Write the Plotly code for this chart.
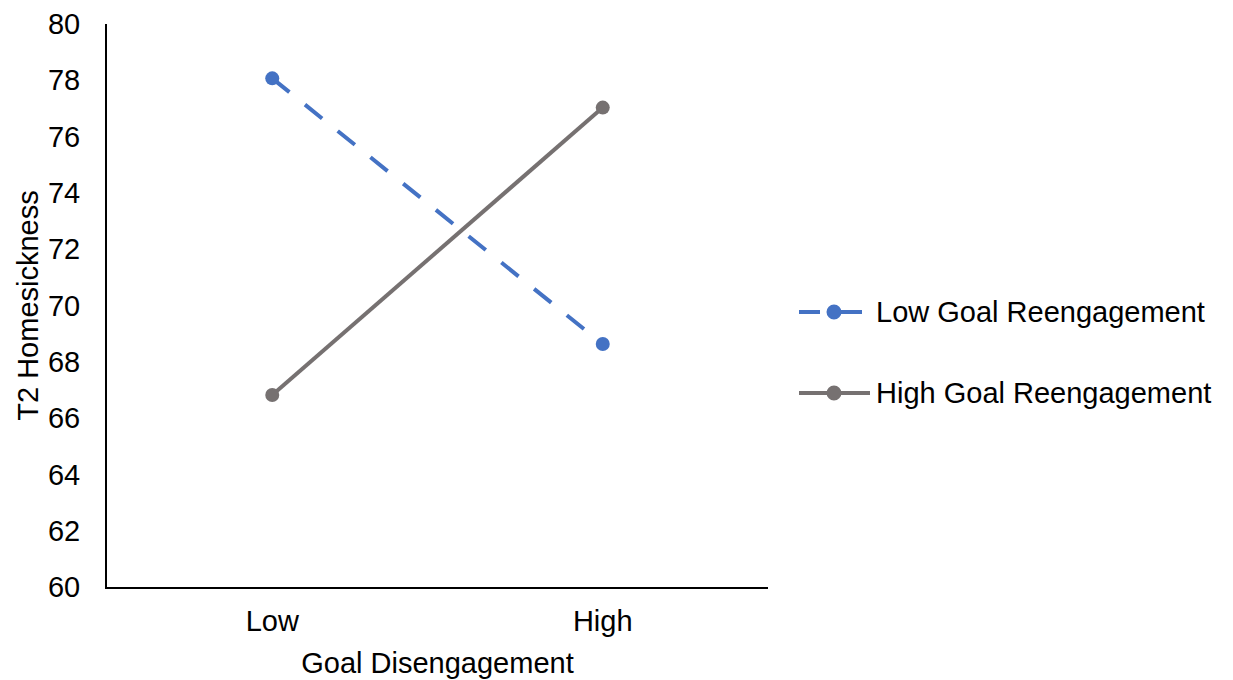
import plotly.graph_objects as go

categories = ["Low", "High"]
series_names = ["Low Goal Reengagement", "High Goal Reengagement"]
low_reengagement = [78.07, 68.63]
high_reengagement = [66.82, 77.03]
y_ticks = [60, 62, 64, 66, 68, 70, 72, 74, 76, 78, 80]

colors = ["#4472C4", "#767171"]
dashes = ["22px,20px", "solid"]
FONT = "Liberation Sans, Arial, sans-serif"
FS = 29

fig = go.Figure()
for name, vals, col, dash in zip(series_names, [low_reengagement, high_reengagement], colors, dashes):
    fig.add_trace(go.Scatter(
        x=categories, y=vals, name=name, mode="lines+markers",
        line=dict(color=col, width=4, dash=dash),
        marker=dict(color=col, size=14),
        showlegend=False,
    ))

# plot area (in page pixels): x 107..768, y 24..587 ; page has 8px body margin
def px_to_paper_x(px):
    return (px - 107) / 661

def px_to_paper_y(py):
    return (587 - py) / 563

legend_rows = [312, 393]
for name, col, dash, py in zip(series_names, colors, dashes, legend_rows):
    yy = px_to_paper_y(py)
    if dash == "solid":
        fig.add_shape(type="line", xref="paper", yref="paper",
                      x0=px_to_paper_x(799), x1=px_to_paper_x(870), y0=yy, y1=yy,
                      line=dict(color=col, width=4))
    else:
        fig.add_shape(type="line", xref="paper", yref="paper",
                      x0=px_to_paper_x(799), x1=px_to_paper_x(820), y0=yy, y1=yy,
                      line=dict(color=col, width=4))
        fig.add_shape(type="line", xref="paper", yref="paper",
                      x0=px_to_paper_x(836), x1=px_to_paper_x(862), y0=yy, y1=yy,
                      line=dict(color=col, width=4))
    r = 7.5
    fig.add_shape(type="circle", xref="paper", yref="paper",
                  x0=px_to_paper_x(834 - r), x1=px_to_paper_x(834 + r),
                  y0=px_to_paper_y(py + r), y1=px_to_paper_y(py - r),
                  fillcolor=col, line=dict(color=col, width=0))
    fig.add_annotation(text=name, xref="paper", yref="paper",
                       x=px_to_paper_x(874), y=yy, xanchor="left", yanchor="middle",
                       showarrow=False, font=dict(family=FONT, size=FS, color="black"))

fig.update_layout(
    width=1233, height=680,
    margin=dict(l=99, r=473, t=16, b=101, autoexpand=False),
    paper_bgcolor="white", plot_bgcolor="white",
    font=dict(family=FONT, size=FS, color="black"),
)
fig.update_xaxes(
    type="category", range=[-0.5, 1.5], automargin=False,
    showline=True, linecolor="black", linewidth=2,
    showgrid=False, zeroline=False, ticks="",
    ticklabelstandoff=7,
    title=dict(text="Goal Disengagement", font=dict(size=FS), standoff=17),
)
fig.update_yaxes(
    range=[60, 80], tickvals=y_ticks, automargin=False,
    showline=True, linecolor="black", linewidth=2,
    showgrid=False, zeroline=False, ticks="",
    ticklabelstandoff=19,
    title=dict(text="T2 Homesickness", font=dict(size=FS), standoff=1),
)

fig.write_html("out.html")
